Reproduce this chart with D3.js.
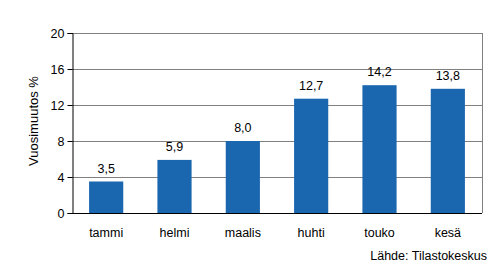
<!DOCTYPE html>
<html>
<head>
<meta charset="utf-8">
<script src="https://cdn.jsdelivr.net/npm/d3@7"></script>
<style>
  body { margin: 0; background: #fff; }
  svg text { font-family: "Liberation Sans", Arial, sans-serif; fill: #000; }
</style>
</head>
<body>
<div id="chart"></div>
<script>
// months and yearly change (%)
const months = ["tammi", "helmi", "maalis", "huhti", "touko", "kesä"];
const values = [3.5, 5.9, 8.0, 12.7, 14.2, 13.8];
const yTicks = [0, 4, 8, 12, 16, 20];

const WIDTH = 495, HEIGHT = 272;
const plotLeft = 72, plotRight = 482, plotTop = 33, plotBottom = 213;

const svg = d3.select("#chart").append("svg")
    .attr("width", WIDTH)
    .attr("height", HEIGHT);

const x = d3.scaleBand().domain(months).range([plotLeft, plotRight]).paddingInner(0.5).paddingOuter(0.25);
const y = d3.scaleLinear().domain([0, 20]).range([plotBottom, plotTop]);

// gridlines
svg.append("g")
    .selectAll("line")
    .data(yTicks.filter(d => d > 0))
    .enter().append("line")
    .attr("x1", plotLeft).attr("x2", plotRight)
    .attr("y1", d => y(d) + 0.5).attr("y2", d => y(d) + 0.5)
    .attr("stroke", "#808080").attr("stroke-width", 1);

// right border
svg.append("line")
    .attr("x1", plotRight + 0.5).attr("x2", plotRight + 0.5)
    .attr("y1", plotTop).attr("y2", plotBottom)
    .attr("stroke", "#808080");

// bars
svg.append("g")
    .selectAll("rect")
    .data(values)
    .enter().append("rect")
    .attr("x", (d, i) => x(months[i]))
    .attr("width", x.bandwidth())
    .attr("y", d => y(d))
    .attr("height", d => y(0) - y(d))
    .attr("fill", "#1a67b0");

// value labels
svg.append("g")
    .selectAll("text")
    .data(values)
    .enter().append("text")
    .attr("x", (d, i) => x(months[i]) + x.bandwidth() / 2)
    .attr("y", d => y(d) - 9)
    .attr("text-anchor", "middle")
    .attr("font-size", 12.5)
    .text(d => d.toFixed(1).replace(".", ","));

// y axis
const yAxis = svg.append("g")
    .attr("transform", `translate(${plotLeft + 0.5},0)`)
    .call(d3.axisLeft(y).tickValues(yTicks).tickSize(5).tickPadding(3));
yAxis.select(".domain").attr("stroke", "#000");
yAxis.selectAll(".tick line").attr("stroke", "#000");
yAxis.selectAll("text").attr("font-size", 12.5).attr("font-family", "Liberation Sans, Arial, sans-serif");

// x axis
const xAxis = svg.append("g")
    .attr("transform", `translate(0,${plotBottom + 0.5})`)
    .call(d3.axisBottom(x).tickSize(0).tickPadding(15));
xAxis.select(".domain").attr("stroke", "#000").attr("d", `M${plotLeft},0H${plotRight}`);
xAxis.selectAll("text").attr("font-size", 12.5).attr("font-family", "Liberation Sans, Arial, sans-serif");

// y label
svg.append("text")
    .attr("transform", `translate(38,${(plotTop + plotBottom) / 2 - 2}) rotate(-90)`)
    .attr("text-anchor", "middle")
    .attr("font-size", 13)
    .text("Vuosimuutos %");

// source
svg.append("text")
    .attr("x", 487).attr("y", 260)
    .attr("text-anchor", "end")
    .attr("font-size", 12.5)
    .text("Lähde: Tilastokeskus");
</script>
</body>
</html>
